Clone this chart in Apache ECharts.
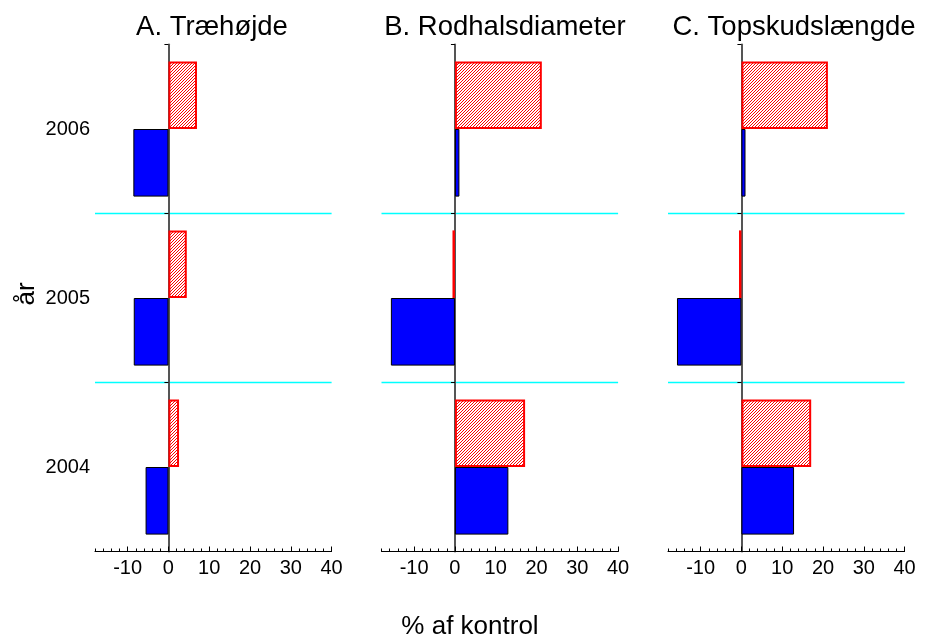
<!DOCTYPE html>
<html>
<head>
<meta charset="utf-8">
<script src="https://cdn.jsdelivr.net/npm/echarts@6/dist/echarts.min.js"></script>
<style>
  html, body { margin: 0; padding: 0; background: #fff; }
  #chart { width: 944px; height: 639px; }
</style>
</head>
<body>
<div id="chart"></div>
<script>
// Years on the category axis (bottom to top)
const years = ['2004', '2005', '2006'];

// Panel titles
const panelTitles = ['A. Træhøjde', 'B. Rodhalsdiameter', 'C. Topskudslængde'];

// % of control, per panel, for 2004, 2005, 2006
const redValues = [
  [2.6, 4.5, 7.0],     // A. Træhøjde
  [17.2, -0.6, 21.3],  // B. Rodhalsdiameter
  [17.1, -0.6, 21.2]   // C. Topskudslængde
];
const blueValues = [
  [-5.6, -8.5, -8.6],
  [13.1, -15.7, 1.1],
  [12.9, -15.8, 1.0]
];

// Value axis range and ticks
const xMin = -18;
const xMax = 40;
const majorTicks = [-10, 0, 10, 20, 30, 40];
const minorTicks = [-18, -16, -14, -12, -10, -8, -6, -4, -2, 0, 2, 4, 6, 8, 10, 12, 14, 16, 18, 20,
                    22, 24, 26, 28, 30, 32, 34, 36, 38, 40];

const FONT = 'Liberation Sans, Arial, sans-serif';

// Diagonal red hatch fill
function makeHatch() {
  const c = document.createElement('canvas');
  c.width = 3; c.height = 3;
  const g = c.getContext('2d');
  g.fillStyle = '#ffffff';
  g.fillRect(0, 0, 3, 3);
  g.fillStyle = '#ff0000';
  for (let i = 0; i < 3; i++) g.fillRect(i, 2 - i, 1, 1);
  return c;
}
const hatch = makeHatch();

const gridLefts = [95, 381.5, 668];
const gridWidth = 236.6;
const titleCenters = [212, 505, 794];

const grid = [], xAxis = [], yAxis = [], series = [], texts = [];

for (let p = 0; p < 3; p++) {
  grid.push({ left: gridLefts[p], top: 44.5, width: gridWidth, height: 507, containLabel: false });

  texts.push({
    type: 'text', x: titleCenters[p], y: 27,
    style: { text: panelTitles[p], fontFamily: FONT, fontSize: 27.5, fill: '#000', align: 'center', verticalAlign: 'middle' }
  });

  // main value axis with labelled major ticks
  xAxis.push({
    type: 'value', gridIndex: p, min: xMin, max: xMax, position: 'bottom',
    axisLine: { show: true, onZero: false, lineStyle: { color: '#000', width: 1 } },
    axisTick: { show: true, inside: true, length: 5, customValues: majorTicks, lineStyle: { color: '#000' } },
    axisLabel: { customValues: majorTicks, fontFamily: FONT, fontSize: 20, color: '#000', margin: 7 },
    splitLine: { show: false }
  });
  // minor ticks
  xAxis.push({
    type: 'value', gridIndex: p, min: xMin, max: xMax, position: 'bottom',
    axisLine: { show: false, onZero: false },
    axisTick: { show: true, inside: true, length: 3, customValues: minorTicks, lineStyle: { color: '#000' } },
    axisLabel: { show: false },
    splitLine: { show: false }
  });

  // year labels at the left edge (first panel only)
  yAxis.push({
    type: 'category', gridIndex: p, data: years, position: 'left',
    axisLine: { show: false, onZero: false },
    axisTick: { show: false },
    axisLabel: { show: p === 0, fontFamily: FONT, fontSize: 20, color: '#000', margin: 5 },
    splitLine: { show: false }
  });
  // zero line with ticks and cyan separators between the year bands
  yAxis.push({
    type: 'category', gridIndex: p, data: years, position: 'left',
    axisLine: { show: true, onZero: true, lineStyle: { color: '#555', width: 2 } },
    axisTick: { show: true, length: 4, lineStyle: { color: '#000', width: 1 } },
    axisLabel: { show: false },
    splitLine: { show: true, showMinLine: false, showMaxLine: false, lineStyle: { color: '#00ffff', width: 1.4 } }
  });

  series.push({
    type: 'bar', name: 'red' + p, xAxisIndex: 2 * p, yAxisIndex: 2 * p + 1,
    data: redValues[p], barCategoryGap: '20%', barGap: '0%',
    itemStyle: { color: { image: hatch, repeat: 'repeat' }, borderColor: '#ff0000', borderWidth: 2 },
    z: 3
  });
  series.push({
    type: 'bar', name: 'blue' + p, xAxisIndex: 2 * p, yAxisIndex: 2 * p + 1,
    data: blueValues[p], barCategoryGap: '20%', barGap: '0%',
    itemStyle: { color: '#0000ff', borderColor: '#000', borderWidth: 1 },
    z: 2
  });
}

texts.push({
  type: 'text', x: 27, y: 294, rotation: Math.PI / 2,
  style: { text: 'år', fontFamily: FONT, fontSize: 26, fill: '#000', align: 'center', verticalAlign: 'middle' }
});
texts.push({
  type: 'text', x: 470, y: 627,
  style: { text: '% af kontrol', fontFamily: FONT, fontSize: 26, fill: '#000', align: 'center', verticalAlign: 'middle' }
});

const chart = echarts.init(document.getElementById('chart'), null, { renderer: 'canvas' });
chart.setOption({
  animation: false,
  backgroundColor: '#fff',
  grid: grid,
  xAxis: xAxis,
  yAxis: yAxis,
  series: series,
  graphic: texts
});
</script>
</body>
</html>
